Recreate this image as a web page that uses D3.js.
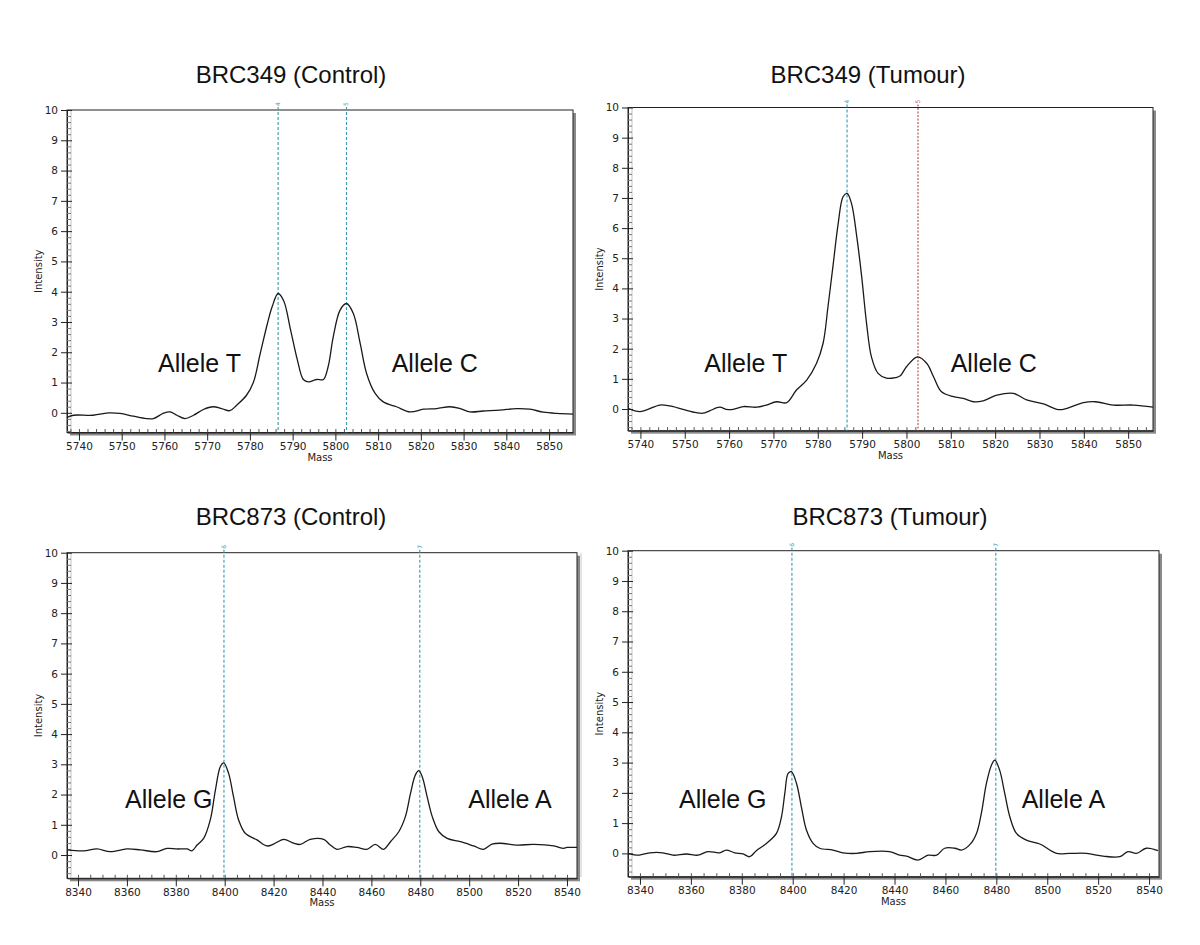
<!DOCTYPE html>
<html><head><meta charset="utf-8">
<script src="https://cdn.jsdelivr.net/npm/d3@7"></script>
<style>body{margin:0;background:#fff}svg{display:block}</style>
</head><body>
<svg id="c" width="1200" height="945"></svg>
<script>
// ---------- data ----------
const titles = ["BRC349 (Control)", "BRC349 (Tumour)", "BRC873 (Control)", "BRC873 (Tumour)"];
const alleleLabels = [["Allele T","Allele C"],["Allele T","Allele C"],["Allele G","Allele A"],["Allele G","Allele A"]];
const xTicksTop = [5740,5750,5760,5770,5780,5790,5800,5810,5820,5830,5840,5850];
const xTicksBottom = [8340,8360,8380,8400,8420,8440,8460,8480,8500,8520,8540];
const yTicks = [0,1,2,3,4,5,6,7,8,9,10];
const markersTop = [5786.6, 5802.6];
const markersBottom = [8399.7, 8479.8];
const markerTags = [["4","5"],["4","5"],["6","7"],["6","7"]];

const p1Mass = [5737.2,5738.7,5743.3,5747.2,5749.6,5752.7,5755.8,5757.4,5759.7,5761.3,5762.9,5764.8,5766.8,5769.1,5771.4,5773.4,5775.3,5776.9,5779.2,5780.8,5782.4,5784.1,5785.2,5786.6,5787.9,5789.5,5791.1,5792.5,5793.7,5795.6,5797.2,5798.3,5799.5,5801.1,5802.6,5804.2,5805.8,5807.3,5809.3,5811.2,5814.3,5817.5,5820.6,5823.7,5826.8,5829.2,5831.5,5834.6,5838.5,5842.4,5845.5,5848.7,5851.8,5855.6];
const p1Int  = [-0.15,-0.08,-0.08,0.0,-0.02,-0.11,-0.19,-0.19,-0.02,0.03,-0.08,-0.19,-0.08,0.11,0.2,0.14,0.07,0.25,0.58,1.0,1.95,2.95,3.5,3.94,3.7,2.75,1.75,1.1,1.02,1.1,1.1,1.52,2.51,3.39,3.61,3.28,2.29,1.3,0.64,0.36,0.2,0.03,0.12,0.14,0.2,0.14,0.03,0.06,0.09,0.14,0.12,0.02,-0.02,-0.04];

const p2Mass = [5737.2,5739.8,5741.4,5744.4,5746.6,5749.6,5752.6,5754.1,5755.6,5757.9,5759.4,5760.9,5763.2,5766.2,5768.4,5770.7,5773.0,5775.2,5777.5,5779.7,5781.2,5782.3,5783.5,5784.6,5785.7,5786.6,5787.6,5788.8,5789.9,5791.0,5792.1,5793.6,5795.5,5797.5,5798.6,5800.0,5802.5,5804.6,5806.1,5807.9,5810.6,5812.8,5815.1,5817.3,5820.4,5824.1,5827.1,5830.9,5833.9,5835.4,5839.9,5842.6,5846.7,5851.2,5855.6];
const p2Int  = [0.02,-0.09,-0.03,0.13,0.1,-0.01,-0.12,-0.14,-0.06,0.06,-0.01,-0.01,0.08,0.06,0.13,0.24,0.21,0.63,0.96,1.51,2.18,3.39,4.83,6.15,7.04,7.15,6.82,5.71,4.39,2.84,1.73,1.18,1.02,1.04,1.1,1.4,1.73,1.51,1.07,0.57,0.41,0.35,0.24,0.27,0.46,0.52,0.3,0.17,-0.01,-0.01,0.21,0.24,0.13,0.13,0.06];

const p3Mass = [8335.5,8342.3,8347.8,8353.2,8360.0,8365.5,8372.3,8376.4,8380.5,8384.6,8386.6,8388.7,8391.4,8394.1,8396.2,8398.2,8399.6,8401.6,8403.6,8405.7,8408.4,8413.2,8417.3,8420.0,8424.1,8428.2,8430.9,8435.0,8440.5,8443.2,8445.9,8450.0,8454.1,8458.2,8461.6,8465.0,8467.8,8471.2,8473.9,8476.0,8478.0,8479.4,8480.8,8482.8,8484.9,8487.6,8491.0,8496.4,8501.8,8505.9,8509.3,8512.7,8519.6,8526.4,8534.6,8538.6,8540.0,8544.1];
const p3Int  = [0.17,0.14,0.2,0.11,0.2,0.17,0.11,0.22,0.2,0.2,0.14,0.33,0.55,1.16,2.15,2.92,3.05,2.7,1.93,1.16,0.72,0.5,0.3,0.36,0.52,0.39,0.35,0.52,0.52,0.33,0.19,0.28,0.25,0.19,0.35,0.19,0.44,0.77,1.27,2.04,2.65,2.79,2.59,1.93,1.27,0.77,0.55,0.44,0.3,0.19,0.36,0.39,0.33,0.35,0.3,0.22,0.25,0.25];

const p4Mass = [8335.3,8338.6,8343.8,8349.0,8353.0,8358.2,8362.8,8366.7,8371.3,8373.9,8377.2,8380.5,8383.1,8385.7,8389.7,8393.6,8395.6,8396.9,8398.2,8399.5,8401.5,8403.4,8405.4,8408.0,8410.6,8415.8,8419.8,8425.0,8430.3,8438.1,8442.0,8444.7,8449.2,8453.2,8456.5,8459.7,8463.7,8466.3,8469.5,8472.2,8474.1,8476.1,8478.1,8479.4,8481.3,8483.3,8485.3,8487.9,8491.8,8497.1,8503.6,8508.8,8515.4,8521.9,8528.5,8531.7,8535.0,8538.9,8543.5];
const p4Int  = [0,-0.06,0.02,0.02,-0.06,-0.02,-0.06,0.06,0.02,0.11,0.02,-0.02,-0.11,0.09,0.33,0.66,1.21,1.98,2.64,2.7,2.31,1.54,0.77,0.33,0.17,0.11,0.02,0,0.06,0.06,-0.06,-0.09,-0.22,-0.06,-0.06,0.17,0.17,0.11,0.28,0.66,1.32,2.31,2.92,3.08,2.75,1.98,1.21,0.66,0.44,0.31,0,0,0,-0.09,-0.11,0.06,0,0.17,0.09];

// ---------- layout ----------
const panels = [
  {mass:p1Mass, val:p1Int, xd:[5737.2,5855.6], yd:[-0.65,10], l:67, t:110, r:573, b:432.5, ticks:xTicksTop, minor:2, markers:markersTop, colors:["#3a98b0","#3a98b0"], tx:291, ty:83,
   al:[[158,372],[391.7,372]]},
  {mass:p2Mass, val:p2Int, xd:[5737.2,5855.6], yd:[-0.72,10], l:628, t:107.5, r:1153, b:430.7, ticks:xTicksTop, minor:2, markers:markersTop, colors:["#3a98b0","#b04848"], tx:868, ty:83,
   al:[[704.3,371.7],[950.7,371.7]]},
  {mass:p3Mass, val:p3Int, xd:[8335.5,8544.1], yd:[-0.77,10], l:67, t:552.7, r:577, b:878.3, ticks:xTicksBottom, minor:5, markers:markersBottom, colors:["#3a98b0","#3a98b0"], tx:291, ty:525,
   al:[[125,808.3],[468.3,808.3]]},
  {mass:p4Mass, val:p4Int, xd:[8335.3,8543.9], yd:[-0.77,10], l:628, t:550.7, r:1159, b:876.7, ticks:xTicksBottom, minor:5, markers:markersBottom, colors:["#3a98b0","#3a98b0"], tx:890, ty:525,
   al:[[679,808.3],[1021.7,808.3]]}
];

const svg = d3.select("#c");
const tickFont = "'DejaVu Sans', Verdana, sans-serif";
const bigFont = "'Liberation Sans', Arial, sans-serif";
const fmt = d3.format("d");

// faint separator line near panel 4
svg.append("line").attr("x1",581).attr("x2",581).attr("y1",553).attr("y2",877).attr("stroke","#c8c8c8").attr("stroke-width",1);

panels.forEach((p,i) => {
  const w = p.r - p.l, h = p.b - p.t;
  const x = d3.scaleLinear().domain(p.xd).range([p.l, p.r]);
  const y = d3.scaleLinear().domain(p.yd).range([p.b, p.t]);
  const g = svg.append("g");

  // shadow + frame
  g.append("rect").attr("x",p.l+3).attr("y",p.t+3).attr("width",w).attr("height",h).attr("fill","#8a8a8a");
  g.append("rect").attr("x",p.l).attr("y",p.t).attr("width",w).attr("height",h).attr("fill","#fff").attr("stroke","#222").attr("stroke-width",1);

  // title
  svg.append("text").attr("x",p.tx).attr("y",p.ty).attr("text-anchor","middle")
    .attr("font-family",bigFont).attr("font-size",24).attr("fill","#111").text(titles[i]);

  // y axis
  const minorY = d3.range(-0.6, 10.001, 0.2).map(v => +v.toFixed(1)).filter(v => Math.abs(v - Math.round(v)) > 1e-6);
  g.append("line").attr("x1",p.l+4).attr("x2",p.l+4).attr("y1",p.t).attr("y2",p.b).attr("stroke","#c4c4c4");
  const ya = g.append("g").attr("transform",`translate(${p.l},0)`)
    .call(d3.axisLeft(y).tickValues(yTicks).tickFormat(fmt).tickSizeInner(6).tickSizeOuter(0).tickPadding(3));
  ya.selectAll("text").attr("font-family",tickFont).attr("font-size",10.5).attr("fill","#222");
  ya.selectAll("line,path").attr("stroke","#222");
  const yin = g.append("g").attr("transform",`translate(${p.l},0)`)
    .call(d3.axisRight(y).tickValues(yTicks).tickSize(5).tickFormat(""));
  yin.select(".domain").remove(); yin.selectAll("line").attr("stroke","#222");
  const ymin = g.append("g").attr("transform",`translate(${p.l},0)`)
    .call(d3.axisRight(y).tickValues(minorY).tickSize(4).tickFormat(""));
  ymin.select(".domain").remove(); ymin.selectAll("line").attr("stroke","#777");

  // x axis
  const minorX = d3.range(Math.ceil(p.xd[0]/p.minor)*p.minor, p.xd[1], p.minor);
  const xa = g.append("g").attr("transform",`translate(0,${p.b})`)
    .call(d3.axisBottom(x).tickValues(p.ticks).tickFormat(fmt).tickSizeInner(8).tickSizeOuter(0).tickPadding(2));
  xa.selectAll("text").attr("font-family",tickFont).attr("font-size",10.5).attr("fill","#222");
  xa.selectAll("line,path").attr("stroke","#222");
  const xmin = g.append("g").attr("transform",`translate(0,${p.b})`)
    .call(d3.axisTop(x).tickValues(minorX).tickSize(3.5).tickFormat(""));
  xmin.select(".domain").remove(); xmin.selectAll("line").attr("stroke","#555");

  // axis titles
  g.append("text").attr("x",(p.l+p.r)/2).attr("y",p.b+28).attr("text-anchor","middle")
    .attr("font-family",tickFont).attr("font-size",10).attr("fill","#222").text("Mass");
  g.append("text").attr("transform",`translate(${p.l-25},${(p.t+p.b)/2}) rotate(-90)`).attr("text-anchor","middle")
    .attr("font-family",tickFont).attr("font-size",10).attr("fill","#222").text("Intensity");

  // marker lines
  p.markers.forEach((m,k) => {
    const mx = x(m);
    g.append("line").attr("x1",mx).attr("x2",mx).attr("y1",p.t-3).attr("y2",p.b)
      .attr("stroke",p.colors[k]).attr("stroke-width",1.1).attr("stroke-dasharray", k===1 && i===1 ? "2,1.5" : "3,2");
    g.append("text").attr("transform",`translate(${mx+2},${p.t-4}) rotate(-90)`)
      .attr("font-family",tickFont).attr("font-size",6).attr("fill",p.colors[k]).text(markerTags[i][k]);
  });

  // spectrum
  const clipId = "clip"+i;
  g.append("clipPath").attr("id",clipId).append("rect").attr("x",p.l).attr("y",p.t).attr("width",w).attr("height",h);
  const pts = p.mass.map((m,k) => [m, p.val[k]]);
  g.append("path").datum(pts).attr("clip-path",`url(#${clipId})`)
    .attr("d", d3.line().x(d => x(d[0])).y(d => y(d[1])).curve(d3.curveCatmullRom.alpha(0.5)))
    .attr("fill","none").attr("stroke","#1a1a1a").attr("stroke-width",1.3);

  // allele labels
  alleleLabels[i].forEach((lab,k) => {
    svg.append("text").attr("x",p.al[k][0]).attr("y",p.al[k][1])
      .attr("font-family",bigFont).attr("font-size",25).attr("fill","#111").text(lab);
  });
});
</script>
</body></html>
